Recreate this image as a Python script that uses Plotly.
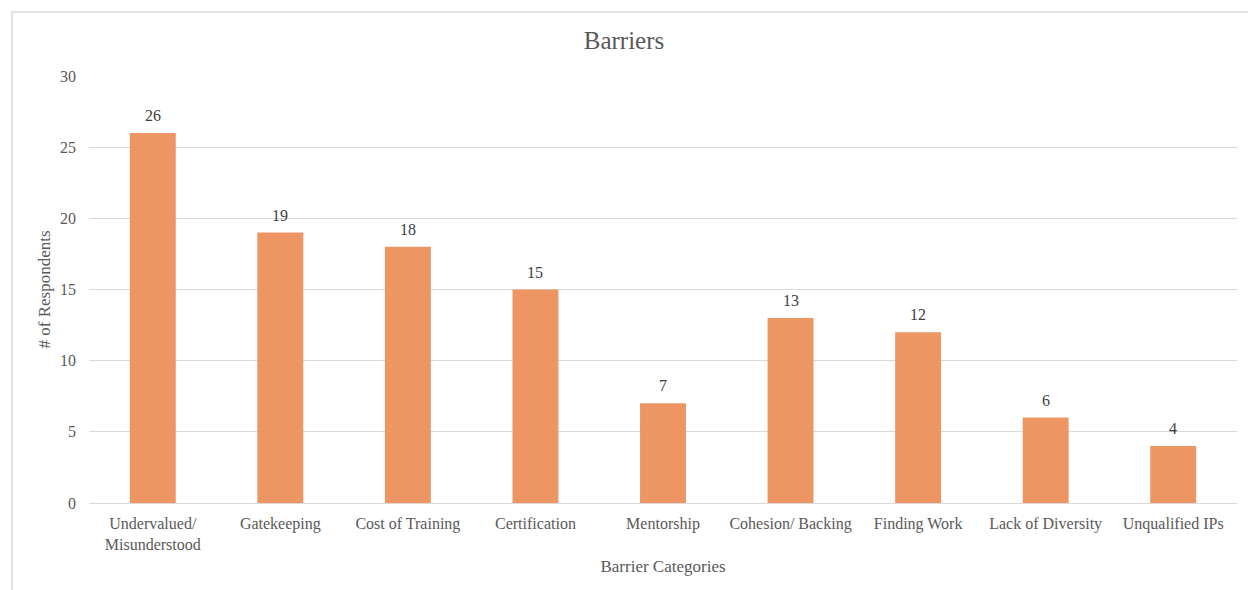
import plotly.graph_objects as go

categories = ["Undervalued/<br>Misunderstood", "Gatekeeping", "Cost of Training", "Certification",
              "Mentorship", "Cohesion/ Backing", "Finding Work", "Lack of Diversity", "Unqualified IPs"]
values = [26, 19, 18, 15, 7, 13, 12, 6, 4]

FONT = "Liberation Serif, Times New Roman, serif"
GRAY = "#595959"

fig = go.Figure(go.Bar(
    x=categories, y=values,
    marker=dict(color="#ED9664", line=dict(width=0)),
))

for c, v in zip(categories, values):
    fig.add_annotation(x=c, y=v, text=str(v), showarrow=False, yanchor="bottom", yshift=7,
                       font=dict(family=FONT, size=16, color="#404040"))

W, H = 1248, 590
L, R, T, B = 89, 11, 76, 87
pw, ph = W - L - R, H - T - B

fig.update_layout(
    width=W, height=H,
    margin=dict(l=L, r=R, t=T, b=B),
    paper_bgcolor="white", plot_bgcolor="white",
    bargap=0.64,
    showlegend=False,
    title=dict(text="Barriers", x=0.5, xanchor="center", y=1 - 40 / H, yanchor="middle",
               font=dict(family=FONT, size=25, color=GRAY)),
    font=dict(family=FONT, size=16, color=GRAY),
    xaxis=dict(
        title=dict(text="Barrier Categories", font=dict(family=FONT, size=17, color=GRAY), standoff=8),
        tickfont=dict(family=FONT, size=16, color=GRAY),
        showline=True, linecolor="#d9d9d9", linewidth=1,
        ticks="", showgrid=False, ticklabelstandoff=6,
    ),
    yaxis=dict(
        title=dict(text="# of Respondents", font=dict(family=FONT, size=17, color=GRAY), standoff=5),
        tickfont=dict(family=FONT, size=16, color=GRAY),
        range=[0, 30], dtick=5, tick0=0,
        showgrid=True, gridcolor="#d9d9d9", gridwidth=1,
        zeroline=False, ticks="", ticklabelstandoff=12,
    ),
    shapes=[dict(
        type="rect", xref="paper", yref="paper",
        x0=(12 - L) / pw, x1=1 + (R + 20) / pw,
        y0=-(B + 20) / ph, y1=1 + (T - 12) / ph,
        line=dict(color="#d9d9d9", width=1.5), fillcolor="rgba(0,0,0,0)", layer="below",
    )],
)

fig.write_html("out.html")
